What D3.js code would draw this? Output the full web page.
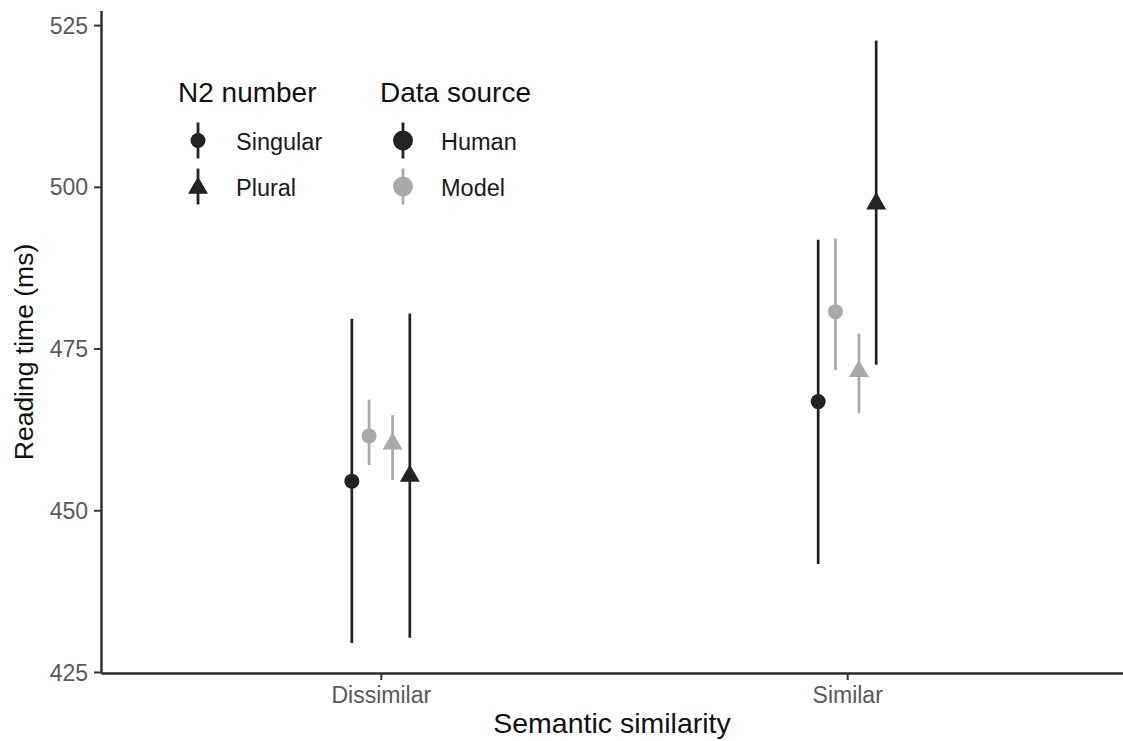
<!DOCTYPE html>
<html>
<head>
<meta charset="utf-8">
<script src="https://cdn.jsdelivr.net/npm/d3@7"></script>
<style>
  body { margin: 0; background: #fff; }
  #canvas { width: 1123px; height: 741px; }
  text { font-family: "Liberation Sans", Arial, Helvetica, sans-serif; }
</style>
</head>
<body>
<div id="canvas"></div>
<script>
const similarity = ["Dissimilar", "Similar"];
const yTicks = [425, 450, 475, 500, 525];
const numberLevels = ["Singular", "Plural"];
const sourceLevels = ["Human", "Model"];

// mean reading time and CI bounds, one value per similarity level
const humanSingular = [454.5, 466.8];
const humanSingularLow = [429.5, 441.7];
const humanSingularHigh = [479.6, 491.8];

const modelSingular = [461.5, 480.7];
const modelSingularLow = [457.0, 471.7];
const modelSingularHigh = [467.1, 492.0];

const modelPlural = [460.3, 471.5];
const modelPluralLow = [454.7, 465.0];
const modelPluralHigh = [464.7, 477.3];

const humanPlural = [455.3, 497.4];
const humanPluralLow = [430.3, 472.5];
const humanPluralHigh = [480.4, 522.6];

const series = [
    {source: "Human", number: "Singular", mean: humanSingular, low: humanSingularLow, high: humanSingularHigh},
    {source: "Model", number: "Singular", mean: modelSingular, low: modelSingularLow, high: modelSingularHigh},
    {source: "Model", number: "Plural", mean: modelPlural, low: modelPluralLow, high: modelPluralHigh},
    {source: "Human", number: "Plural", mean: humanPlural, low: humanPluralLow, high: humanPluralHigh}
];

const w = 1123, h = 741;
const pLeft = 101, pRight = 1127, pTop = 10.5, pBottom = 673;

let rows = [];
series.forEach(s => {
    similarity.forEach((c, i) => {
        rows.push({cat: c, source: s.source, number: s.number,
                   mean: s.mean[i], low: s.low[i], high: s.high[i]});
    });
});

let svg = d3.select("#canvas")
            .append("svg")
                .attr("width", w)
                .attr("height", h)
                .attr("viewBox", [0, 0, w, h]);

// ggplot style 5% expansion of the data range
let yMin = d3.min(rows, d => d.low), yMax = d3.max(rows, d => d.high);
let pad = (yMax - yMin) * 0.05;
let y = d3.scaleLinear()
    .domain([yMin - pad, yMax + pad])
    .range([pBottom, pTop]);

let x = d3.scalePoint()
    .domain(similarity)
    .range([pLeft, pRight])
    .padding(0.6);

let dodge = d3.scaleOrdinal()
    .domain(["Human Singular", "Model Singular", "Model Plural", "Human Plural"])
    .range([-29, -11.75, 11.75, 29]);

let color = d3.scaleOrdinal()
    .domain(sourceLevels)
    .range(["#232323", "#a9a9a9"]);

const triangle = d3.symbol().type(d3.symbolTriangle).size(173);

function px(d) { return x(d.cat) + dodge(d.source + " " + d.number); }

// error bars
svg.append("g")
    .selectAll("line")
    .data(rows)
    .enter().append("line")
        .attr("x1", px)
        .attr("x2", px)
        .attr("y1", d => y(d.low))
        .attr("y2", d => y(d.high))
        .attr("stroke", d => color(d.source))
        .attr("stroke-width", 2.7);

// points
let pts = svg.append("g");
pts.selectAll("circle")
    .data(rows.filter(d => d.number == "Singular"))
    .enter().append("circle")
        .attr("cx", px)
        .attr("cy", d => y(d.mean))
        .attr("r", 7.5)
        .attr("fill", d => color(d.source));
pts.selectAll("path")
    .data(rows.filter(d => d.number == "Plural"))
    .enter().append("path")
        .attr("d", triangle)
        .attr("transform", d => "translate(" + px(d) + "," + y(d.mean) + ")")
        .attr("fill", d => color(d.source));

// axes
let yAxis = d3.axisLeft(y)
    .tickValues(yTicks)
    .tickSize(7)
    .tickSizeOuter(0)
    .tickPadding(6);
let gY = svg.append("g")
    .attr("transform", "translate(" + pLeft + ",0)")
    .call(yAxis);

let xAxis = d3.axisBottom(x)
    .tickSize(7)
    .tickSizeOuter(0)
    .tickPadding(6);
let gX = svg.append("g")
    .attr("transform", "translate(0," + pBottom + ")")
    .call(xAxis);

[gX, gY].forEach(g => {
    g.select(".domain").attr("stroke", "#2b2b2b").attr("stroke-width", 2.4);
    g.selectAll(".tick line").attr("stroke", "#333").attr("stroke-width", 2);
    g.selectAll(".tick text")
        .attr("fill", "#595959")
        .style("font-size", "23px")
        .style("font-family", "'Liberation Sans', Arial, sans-serif");
});
gY.selectAll(".tick text").attr("dy", "0.35em");
gX.selectAll(".tick text").attr("dy", "0.72em");

svg.append("text")
    .attr("x", (pLeft + 1123) / 2)
    .attr("y", 733)
    .attr("text-anchor", "middle")
    .style("font-size", "28.5px")
    .attr("fill", "#111")
    .text("Semantic similarity");

svg.append("text")
    .attr("transform", "translate(33," + 352 + ") rotate(-90)")
    .attr("text-anchor", "middle")
    .style("font-size", "26.5px")
    .attr("fill", "#111")
    .text("Reading time (ms)");

// legends
function legendBlock(x0, title, levels, keyX, drawKey) {
    let g = svg.append("g");
    g.append("text")
        .attr("x", x0)
        .attr("y", 102)
        .style("font-size", "28px")
        .attr("fill", "#111")
        .text(title);
    levels.forEach((lv, i) => {
        let cy = 140.5 + i * 46;
        g.append("line")
            .attr("x1", keyX).attr("x2", keyX)
            .attr("y1", cy - 18).attr("y2", cy + 18)
            .attr("stroke", drawKey.color(lv))
            .attr("stroke-width", 2.8);
        drawKey.mark(g, lv, keyX, cy);
        g.append("text")
            .attr("x", keyX + 38)
            .attr("y", cy + 9)
            .style("font-size", "23.5px")
            .attr("fill", "#1a1a1a")
            .text(lv);
    });
}

legendBlock(178, "N2 number", numberLevels, 198, {
    color: () => "#232323",
    mark: (g, lv, cx, cy) => {
        if (lv == "Singular") {
            g.append("circle").attr("cx", cx).attr("cy", cy).attr("r", 7.5).attr("fill", "#232323");
        } else {
            g.append("path").attr("d", triangle).attr("transform", "translate(" + cx + "," + (cy + 1.5) + ")").attr("fill", "#232323");
        }
    }
});

legendBlock(380, "Data source", sourceLevels, 403, {
    color: lv => color(lv),
    mark: (g, lv, cx, cy) => {
        g.append("circle").attr("cx", cx).attr("cy", cy).attr("r", 10).attr("fill", color(lv));
    }
});
</script>
</body>
</html>
